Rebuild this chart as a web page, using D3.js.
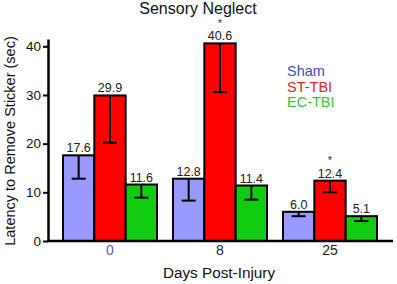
<!DOCTYPE html>
<html>
<head>
<meta charset="utf-8">
<script src="https://cdn.jsdelivr.net/npm/d3@7"></script>
<style>
  body { margin: 0; background: #fff; }
  svg { display: block; font-family: "Liberation Sans", Arial, sans-serif; }
</style>
</head>
<body>
<div class="grafico"></div>
<script>
var days = ["0", "8", "25"];
var groups = ["Sham", "ST-TBI", "EC-TBI"];
var sham = [17.6, 12.8, 6.0];
var stTbi = [29.9, 40.6, 12.4];
var ecTbi = [11.6, 11.4, 5.1];
var shamErr = [4.8, 4.5, 0.9];
var stTbiErr = [9.7, 10.0, 2.4];
var ecTbiErr = [2.7, 2.9, 1.0];
var significant = [[false, false, false], [false, true, true], [false, false, false]];
var yTicks = [0, 10, 20, 30, 40];

var widthContenedor = 397;
var heightContenedor = 284;

var fillColors = ["#9999ff", "#ff0000", "#11cc11"];
var textColors = ["#4a4ac0", "#e02828", "#3cc43c"];

var valores = [sham, stTbi, ecTbi];
var errores = [shamErr, stTbiErr, ecTbiErr];

var barras = [];
days.forEach(function (dia, i) {
  groups.forEach(function (g, j) {
    barras.push({ dia: dia, grupo: g, j: j, valor: valores[j][i], err: errores[j][i], sig: significant[j][i] });
  });
});

var contenedor = d3.select('.grafico')
  .append('svg')
  .attr('width', widthContenedor)
  .attr('height', heightContenedor);

var xScale = d3.scaleBand().domain(days).range([55, 385]).padding(0);
var xInner = d3.scaleBand().domain(groups).range([8, 102]).padding(0);
var yScale = d3.scaleLinear().domain([0, 41.5]).range([241, 39]);

function centro(d) {
  return xScale(d.dia) + xInner(d.grupo) + xInner.bandwidth() / 2;
}

// bars
contenedor.selectAll('rect.bar')
  .data(barras)
  .enter()
  .append('rect')
  .attr('class', 'bar')
  .attr('x', function (d) { return xScale(d.dia) + xInner(d.grupo); })
  .attr('y', function (d) { return yScale(d.valor); })
  .attr('width', xInner.bandwidth())
  .attr('height', function (d) { return yScale(0) - yScale(d.valor); })
  .attr('fill', function (d) { return fillColors[d.j]; })
  .attr('stroke', '#000')
  .attr('stroke-width', 2);

// error bars (downward only)
var err = contenedor.selectAll('g.err')
  .data(barras)
  .enter()
  .append('g')
  .attr('class', 'err')
  .attr('transform', function (d) { return 'translate(' + centro(d) + ',0)'; });

err.append('line')
  .attr('x1', 0).attr('x2', 0)
  .attr('y1', function (d) { return yScale(d.valor); })
  .attr('y2', function (d) { return yScale(d.valor - d.err); })
  .attr('stroke', '#000').attr('stroke-width', 2);

err.append('line')
  .attr('x1', -7).attr('x2', 7)
  .attr('y1', function (d) { return yScale(d.valor - d.err); })
  .attr('y2', function (d) { return yScale(d.valor - d.err); })
  .attr('stroke', '#000').attr('stroke-width', 2);

// value labels
contenedor.selectAll('text.valor')
  .data(barras)
  .enter()
  .append('text')
  .attr('class', 'valor')
  .attr('x', centro)
  .attr('y', function (d) { return yScale(d.valor) - 3; })
  .attr('text-anchor', 'middle')
  .attr('font-size', 12.5)
  .attr('fill', '#222')
  .text(function (d) { return d.valor.toFixed(1); });

contenedor.selectAll('text.sig')
  .data(barras.filter(function (d) { return d.sig; }))
  .enter()
  .append('text')
  .attr('class', 'sig')
  .attr('x', centro)
  .attr('y', function (d) { return yScale(d.valor) - 16.7; })
  .attr('text-anchor', 'middle')
  .attr('font-size', 10)
  .attr('fill', '#222')
  .text('*');

// y axis
var yAxis = d3.axisLeft(yScale).tickValues(yTicks).tickSize(5).tickPadding(2).tickSizeOuter(0);
var gy = contenedor.append('g')
  .attr('transform', 'translate(48,0)')
  .call(yAxis);
gy.select('.domain').attr('stroke', '#000').attr('stroke-width', 2.5);
gy.selectAll('.tick line').attr('stroke', '#000').attr('stroke-width', 2);
gy.selectAll('.tick text')
  .attr('font-size', 13.5)
  .attr('font-family', '"Liberation Sans", Arial, sans-serif')
  .attr('fill', '#111');

// x axis
var xAxis = d3.axisBottom(xScale).tickSize(0).tickPadding(4).tickSizeOuter(0);
var gx = contenedor.append('g')
  .attr('transform', 'translate(0,241)')
  .call(xAxis);
gx.select('.domain').attr('d', 'M47,0H393').attr('stroke', '#000').attr('stroke-width', 2.5);
gx.selectAll('.tick text')
  .attr('font-size', 14)
  .attr('font-family', '"Liberation Sans", Arial, sans-serif')
  .attr('fill', function (d) { return d === "0" ? '#5a5ac8' : '#222'; });

// titles
contenedor.append('text')
  .attr('x', 198).attr('y', 14)
  .attr('text-anchor', 'middle')
  .attr('font-size', 16)
  .attr('fill', '#111')
  .text('Sensory Neglect');

contenedor.append('text')
  .attr('x', 219).attr('y', 278)
  .attr('text-anchor', 'middle')
  .attr('font-size', 15.3)
  .attr('fill', '#111')
  .text('Days Post-Injury');

contenedor.append('text')
  .attr('transform', 'translate(15,141) rotate(-90)')
  .attr('text-anchor', 'middle')
  .attr('font-size', 14.5)
  .attr('fill', '#111')
  .text('Latency to Remove Sticker (sec)');

// legend
contenedor.selectAll('text.leyenda')
  .data(groups)
  .enter()
  .append('text')
  .attr('class', 'leyenda')
  .attr('x', 287)
  .attr('y', function (d, i) { return 76 + i * 15.5; })
  .attr('font-size', 14.5)
  .attr('fill', function (d, i) { return textColors[i]; })
  .text(function (d) { return d; });
</script>
</body>
</html>
